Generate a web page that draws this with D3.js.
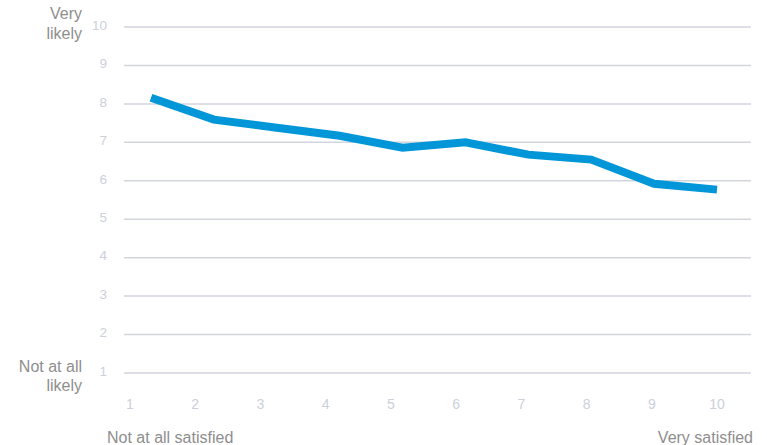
<!DOCTYPE html>
<html><head><meta charset="utf-8">
<script src="https://cdn.jsdelivr.net/npm/d3@7"></script>
<style>body{margin:0;background:#fff}svg{display:block}</style>
</head><body>
<script>
const satisfaction = [1,2,3,4,5,6,7,8,9,10];
const likelihood = [8.16, 7.59, 7.38, 7.17, 6.86, 7.0, 6.68, 6.55, 5.92, 5.77];
const yTicks = [1,2,3,4,5,6,7,8,9,10];
const xTicks = [1,2,3,4,5,6,7,8,9,10];

const W = 767, H = 445;
const svg = d3.select("body").append("svg").attr("width", W).attr("height", H);
const font = "'Liberation Sans', Arial, Helvetica, sans-serif";

const y = d3.scaleLinear().domain([1,10]).range([373, 27]);
const xLab = d3.scaleLinear().domain([1,10]).range([130, 717]);
const xLine = d3.scaleLinear().domain([1,10]).range([151, 717]);

// gridlines
svg.append("g").selectAll("line").data(yTicks).join("line")
  .attr("x1", 124).attr("x2", 751)
  .attr("y1", d => y(d)).attr("y2", d => y(d))
  .attr("stroke", "#d3d5de").attr("stroke-width", 1.5);

// y tick labels
svg.append("g").selectAll("text").data(yTicks).join("text")
  .attr("x", 107).attr("y", d => y(d) - 2).attr("dy", "0.35em")
  .attr("text-anchor", "end").attr("font-family", font).attr("font-size", 13.5)
  .attr("fill", "#ccd0db").text(d => d);

// x tick labels
svg.append("g").selectAll("text").data(xTicks).join("text")
  .attr("x", d => xLab(d)).attr("y", 409)
  .attr("text-anchor", "middle").attr("font-family", font).attr("font-size", 14)
  .attr("fill", "#ccd0db").text(d => d);

// axis titles
const tcol = "#8e8e8e";
const fs = 16;
const yTop = svg.append("text").attr("font-family", font).attr("font-size", fs).attr("fill", tcol).attr("text-anchor", "end");
yTop.append("tspan").attr("x", 82).attr("y", 19).text("Very");
yTop.append("tspan").attr("x", 82).attr("y", 39).text("likely");
const yBot = svg.append("text").attr("font-family", font).attr("font-size", fs).attr("fill", tcol).attr("text-anchor", "end");
yBot.append("tspan").attr("x", 82).attr("y", 372).text("Not at all");
yBot.append("tspan").attr("x", 82).attr("y", 391).text("likely");
svg.append("text").attr("x", 107).attr("y", 443).attr("font-family", font).attr("font-size", fs)
  .attr("fill", tcol).text("Not at all satisfied");
svg.append("text").attr("x", 753).attr("y", 443).attr("font-family", font).attr("font-size", fs)
  .attr("fill", tcol).attr("text-anchor", "end").text("Very satisfied");

// line
const line = d3.line().x((d,i) => xLine(satisfaction[i])).y(d => y(d));
svg.append("path").datum(likelihood).attr("d", line)
  .attr("fill", "none").attr("stroke", "#0096d8").attr("stroke-width", 8)
  .attr("stroke-linejoin", "miter").attr("stroke-linecap", "butt");
</script>
</body></html>
